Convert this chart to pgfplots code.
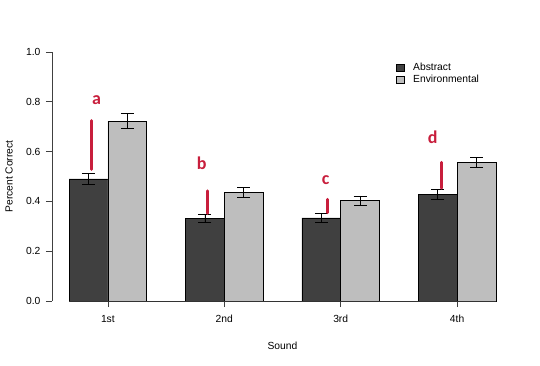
\documentclass[border=0pt]{standalone}
\usepackage{fontspec}
\setmainfont{Liberation Sans}
\newfontfamily\calfont{Carlito}
\usepackage{pgfplots}
\pgfplotsset{compat=1.18}
\usepackage{pgfplotstable}
\definecolor{darkbar}{HTML}{404040}
\definecolor{lightbar}{HTML}{BEBEBE}
\definecolor{annot}{RGB}{200,30,60}
\pgfplotstableread{
x y e
1.5 0.490 0.021
4.5 0.333 0.017
7.5 0.334 0.017
10.5 0.427 0.020
}\abstracttab
\pgfplotstableread{
x y e
2.5 0.722 0.030
5.5 0.437 0.020
8.5 0.403 0.019
11.5 0.557 0.019
}\envtab
\begin{document}
\begin{tikzpicture}
\path[use as bounding box] (-52pt,-65pt) rectangle (488pt,301pt);
\begin{axis}[
  at={(0,0)}, anchor=south west,
  scale only axis, width=461pt, height=249pt,
  xmin=0.56, xmax=12.44, ymin=0, ymax=1,
  clip=false,
  axis lines*=left, axis line style={draw=none},
  xtick={2,5,8,11}, xticklabels={1st,2nd,3rd,4th},
  ytick={0,0.2,0.4,0.6,0.8,1},
  yticklabel style={xshift=-2pt, /pgf/number format/.cd, fixed, fixed zerofill, precision=1, assume math mode=true},
  xticklabel style={yshift=-5pt},
  tick align=outside, major tick length=6pt,
  tick style={black!75, line width=0.6pt},
  ticklabel style={font=\fontsize{10.3}{12}\selectfont},
  label style={font=\fontsize{10.3}{12}\selectfont},
  xlabel={Sound}, ylabel={Percent Correct},
  xlabel style={at={(axis description cs:0.5,-0.1807)}, anchor=center},
  ylabel style={at={(axis description cs:-0.0933,0.5)}, anchor=center},
  legend style={at={(axis description cs:0.745,0.965)}, anchor=north west, draw=none, fill=none,
    font=\fontsize{10.3}{12}\selectfont, row sep=-1pt, inner sep=0pt},
  legend cell align=left,
]
\addplot[ybar, bar width=1, bar shift=0pt, fill=darkbar, draw=black, line width=0.6pt,
  legend image code/.code={\draw[fill=darkbar,draw=black,line width=0.5pt] (0pt,-3.5pt) rectangle (8pt,3.5pt); \node[inner sep=0pt, draw=none, fill=none] at (14pt,0pt) {};},
  error bars/.cd, y dir=both, y explicit,
  error bar style={black, line width=0.6pt},
  error mark options={rotate=90, black, mark size=6.5pt, line width=0.6pt}]
  table[x=x, y=y, y error=e] {\abstracttab};
\addlegendentry{Abstract}
\addplot[ybar, bar width=1, bar shift=0pt, fill=lightbar, draw=black, line width=0.6pt,
  legend image code/.code={\draw[fill=lightbar,draw=black,line width=0.5pt] (0pt,-3.5pt) rectangle (8pt,3.5pt); \node[inner sep=0pt, draw=none, fill=none] at (14pt,0pt) {};},
  error bars/.cd, y dir=both, y explicit,
  error bar style={black, line width=0.6pt},
  error mark options={rotate=90, black, mark size=6.5pt, line width=0.6pt}]
  table[x=x, y=y, y error=e] {\envtab};
\addlegendentry{Environmental}
% axis lines
\addplot[black!75, line width=0.6pt, forget plot] coordinates {(0.56,0) (0.56,1)};
\addplot[black!80, line width=0.6pt, forget plot] coordinates {(1,0) (12,0)};
% annotations
\addplot[annot, line width=3pt, line cap=round, forget plot] coordinates {(1.59,0.529) (1.59,0.724)};
\addplot[annot, line width=3pt, line cap=round, forget plot] coordinates {(4.56,0.352) (4.56,0.442)};
\addplot[annot, line width=3pt, line cap=round, forget plot] coordinates {(7.67,0.355) (7.67,0.408)};
\addplot[annot, line width=3pt, line cap=round, forget plot] coordinates {(10.59,0.453) (10.59,0.557)};
\node[annot, font=\calfont\bfseries\fontsize{18}{18}\selectfont, anchor=base] at (axis cs:1.71,0.788) {a};
\node[annot, font=\calfont\bfseries\fontsize{18}{18}\selectfont, anchor=base] at (axis cs:4.415,0.529) {b};
\node[annot, font=\calfont\bfseries\fontsize{18}{18}\selectfont, anchor=base] at (axis cs:7.61,0.466) {c};
\node[annot, font=\calfont\bfseries\fontsize{18}{18}\selectfont, anchor=base] at (axis cs:10.37,0.633) {d};
\end{axis}
\end{tikzpicture}
\end{document}
